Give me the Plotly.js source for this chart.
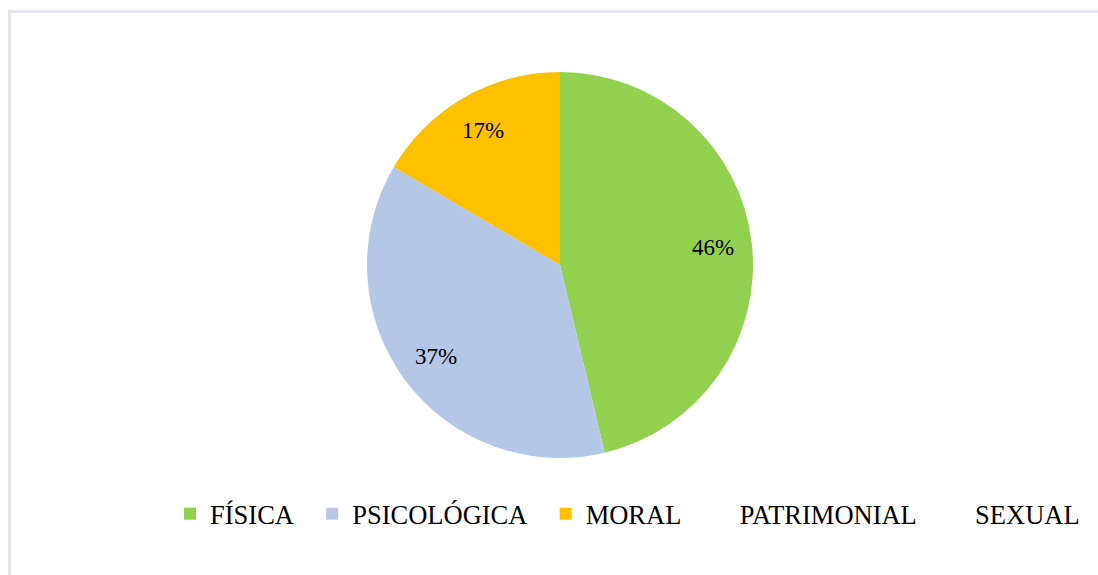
<!DOCTYPE html>
<html>
<head>
<meta charset="utf-8">
<script src="https://cdn.plot.ly/plotly-3.0.1.min.js"></script>
<style>
  html, body { margin: 0; padding: 0; background: #ffffff; }
  #wrap { position: relative; width: 1098px; height: 575px; overflow: hidden; }
  #frame { position: absolute; left: 8px; top: 10px; width: 1200px; height: 700px;
           border-left: 3px solid #e2e5eb; border-top: 3px solid #e2e5eb; pointer-events: none; z-index: 5; }
  #chart { position: absolute; left: 0; top: 0; width: 1098px; height: 575px; }
</style>
</head>
<body>
<div id="wrap">
  <div id="chart"></div>
  <div id="frame"></div>
</div>
<script>
const categories = ["FÍSICA", "PSICOLÓGICA", "MORAL", "PATRIMONIAL", "SEXUAL"];
const values = [56, 45, 20, 0, 0];
const colors = ["#92d050", "#b4c7e7", "#ffc000", "#ffffff", "#ffffff"];

const W = 1098, H = 575;
const cx = 560, cy = 265, R = 193;
const SERIF = "Liberation Serif";
const PAD = "\u00a0\u00a0"; // extra room between legend entries

// percentage labels placed from the data (Excel-style, ~0.80 of the radius)
const total = values.reduce((a, b) => a + b, 0);
const annotations = [];
let cum = 0;
values.forEach((v) => {
  if (v > 0) {
    const mid = (cum + v / 2) / total * 2 * Math.PI; // clockwise from top
    const r = 0.80 * R;
    const px = cx + r * Math.sin(mid);
    const py = cy - r * Math.cos(mid);
    annotations.push({
      x: px / W, y: 1 - py / H, xref: "paper", yref: "paper",
      text: Math.round(v / total * 100) + "%", showarrow: false,
      xanchor: "center", yanchor: "middle",
      font: { family: SERIF, size: 23, color: "#000000" }
    });
  }
  cum += v;
});

const trace = {
  type: "pie",
  labels: categories.map((c) => c + PAD),
  values: values,
  sort: false,
  direction: "clockwise",
  rotation: 0,
  marker: { colors: colors, line: { width: 0 } },
  textinfo: "none",
  hoverinfo: "label+percent",
  domain: { x: [(cx - R) / W, (cx + R) / W], y: [1 - (cy + R) / H, 1 - (cy - R) / H] }
};

const layout = {
  width: W, height: H,
  margin: { l: 0, r: 0, t: 0, b: 0 },
  paper_bgcolor: "#ffffff",
  showlegend: true,
  annotations: annotations,
  legend: {
    orientation: "h",
    x: 170 / W, xanchor: "left",
    y: 1 - 514 / H, yanchor: "middle",
    font: { family: SERIF, size: 26.5, color: "#000000" },
    traceorder: "normal"
  }
};

Plotly.newPlot("chart", [trace], layout, { displayModeBar: false, staticPlot: true });
</script>
</body>
</html>
